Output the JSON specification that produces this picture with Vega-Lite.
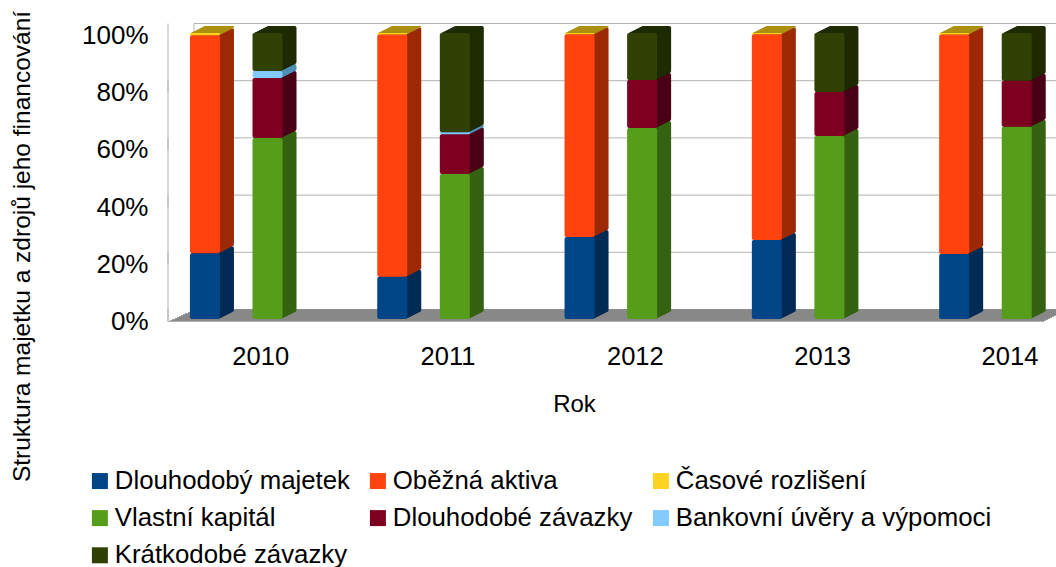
{"$schema":"https://vega.github.io/schema/vega-lite/v6.json","width":888,"height":286,"autosize":"none","padding":{"left":168,"top":33,"right":0,"bottom":248},"background":"white","config":{"view":{"stroke":null},"font":"Liberation Sans"},
"datasets":{"ticks":[{"v":0},{"v":20},{"v":40},{"v":60},{"v":80},{"v":100}],"zero":[{"v":0}],"wall":[{"v":0,"v2":100}]},
"data":{"values":[
{"year":2010,"pos":2009.833,"series":"Dlouhodobý majetek","ord":1,"value":23.0},{"year":2010,"pos":2009.833,"series":"Oběžná aktiva","ord":2,"value":76.2},{"year":2010,"pos":2009.833,"series":"Časové rozlišení","ord":3,"value":0.8},
{"year":2010,"pos":2010.167,"series":"Vlastní kapitál","ord":4,"value":63.3},{"year":2010,"pos":2010.167,"series":"Dlouhodobé závazky","ord":5,"value":21.0},{"year":2010,"pos":2010.167,"series":"Bankovní úvěry a výpomoci","ord":6,"value":2.4},{"year":2010,"pos":2010.167,"series":"Krátkodobé závazky","ord":7,"value":13.3},
{"year":2011,"pos":2010.833,"series":"Dlouhodobý majetek","ord":1,"value":14.8},{"year":2011,"pos":2010.833,"series":"Oběžná aktiva","ord":2,"value":84.7},{"year":2011,"pos":2010.833,"series":"Časové rozlišení","ord":3,"value":0.5},
{"year":2011,"pos":2011.167,"series":"Vlastní kapitál","ord":4,"value":50.7},{"year":2011,"pos":2011.167,"series":"Dlouhodobé závazky","ord":5,"value":13.9},{"year":2011,"pos":2011.167,"series":"Bankovní úvěry a výpomoci","ord":6,"value":0.7},{"year":2011,"pos":2011.167,"series":"Krátkodobé závazky","ord":7,"value":34.7},
{"year":2012,"pos":2011.833,"series":"Dlouhodobý majetek","ord":1,"value":28.7},{"year":2012,"pos":2011.833,"series":"Oběžná aktiva","ord":2,"value":70.9},{"year":2012,"pos":2011.833,"series":"Časové rozlišení","ord":3,"value":0.4},
{"year":2012,"pos":2012.167,"series":"Vlastní kapitál","ord":4,"value":66.8},{"year":2012,"pos":2012.167,"series":"Dlouhodobé závazky","ord":5,"value":16.8},{"year":2012,"pos":2012.167,"series":"Krátkodobé závazky","ord":7,"value":16.4},
{"year":2013,"pos":2012.833,"series":"Dlouhodobý majetek","ord":1,"value":27.6},{"year":2013,"pos":2012.833,"series":"Oběžná aktiva","ord":2,"value":72.0},{"year":2013,"pos":2012.833,"series":"Časové rozlišení","ord":3,"value":0.4},
{"year":2013,"pos":2013.167,"series":"Vlastní kapitál","ord":4,"value":64.0},{"year":2013,"pos":2013.167,"series":"Dlouhodobé závazky","ord":5,"value":15.4},{"year":2013,"pos":2013.167,"series":"Krátkodobé závazky","ord":7,"value":20.6},
{"year":2014,"pos":2013.833,"series":"Dlouhodobý majetek","ord":1,"value":22.7},{"year":2014,"pos":2013.833,"series":"Oběžná aktiva","ord":2,"value":76.8},{"year":2014,"pos":2013.833,"series":"Časové rozlišení","ord":3,"value":0.5},
{"year":2014,"pos":2014.167,"series":"Vlastní kapitál","ord":4,"value":67.2},{"year":2014,"pos":2014.167,"series":"Dlouhodobé závazky","ord":5,"value":16.1},{"year":2014,"pos":2014.167,"series":"Krátkodobé závazky","ord":7,"value":16.7}
]},
"layer":[
{"data":{"name":"ticks"},"mark":{"type":"rule","color":"#b3b3b3","strokeWidth":1,"x":26,"x2":900,"yOffset":-9.5},"encoding":{"y":{"field":"v","type":"quantitative","scale":{"domain":[0,100],"nice":false},"axis":{"title":"Struktura majetku a zdrojů jeho financování","titleFontSize":24.5,"titleFontWeight":"normal","titleColor":"#000","titleX":-146,"titleY":213,"titleAngle":270,"titleAlign":"center","titleBaseline":"middle","values":[0,20,40,60,80,100],"format":".0f","labelExpr":"datum.label + '%'","labelFontSize":26,"labelColor":"#000","labelPadding":20,"labelOffset":2.5,"ticks":false,"domain":false,"grid":false}}}},
{"data":{"name":"ticks"},"mark":{"type":"rule","color":"#b3b3b3","strokeWidth":1,"x":0,"x2":26,"yOffset":2.5,"y2Offset":-9.5},"encoding":{"y":{"field":"v","type":"quantitative"},"y2":{"field":"v"}}},
{"data":{"name":"wall"},"mark":{"type":"rule","color":"#b3b3b3","strokeWidth":1,"x":0,"yOffset":2.5,"y2Offset":2.5},"encoding":{"y":{"field":"v","type":"quantitative"},"y2":{"field":"v2"}}},
{"data":{"name":"wall"},"mark":{"type":"rule","color":"#b3b3b3","strokeWidth":1,"x":26,"yOffset":-9.5,"y2Offset":-9.5},"encoding":{"y":{"field":"v","type":"quantitative"},"y2":{"field":"v2"}}},
{"data":{"name":"zero"},"encoding":{"y":{"field":"v","type":"quantitative"}},"layer":[
{"mark":{"type":"rule","color":"#808080","strokeWidth":1.5,"x":26,"x2":900,"yOffset":-9}},
{"mark":{"type":"rule","color":"#808080","strokeWidth":1.5,"x":24,"x2":897,"yOffset":-8}},
{"mark":{"type":"rule","color":"#808080","strokeWidth":1.5,"x":22,"x2":895,"yOffset":-7}},
{"mark":{"type":"rule","color":"#808080","strokeWidth":1.5,"x":20,"x2":893,"yOffset":-6}},
{"mark":{"type":"rule","color":"#808080","strokeWidth":1.5,"x":17,"x2":891,"yOffset":-5}},
{"mark":{"type":"rule","color":"#808080","strokeWidth":1.5,"x":15,"x2":888,"yOffset":-4}},
{"mark":{"type":"rule","color":"#808080","strokeWidth":1.5,"x":13,"x2":886,"yOffset":-3}},
{"mark":{"type":"rule","color":"#808080","strokeWidth":1.5,"x":11,"x2":884,"yOffset":-2}},
{"mark":{"type":"rule","color":"#808080","strokeWidth":1.5,"x":9,"x2":882,"yOffset":-1}},
{"mark":{"type":"rule","color":"#808080","strokeWidth":1.5,"x":7,"x2":880,"yOffset":0}},
{"mark":{"type":"rule","color":"#808080","strokeWidth":1.5,"x":4,"x2":878,"yOffset":1}},
{"mark":{"type":"rule","color":"#808080","strokeWidth":1.5,"x":2,"x2":876,"yOffset":2}},
{"mark":{"type":"rule","color":"#b3b3b3","strokeWidth":1,"x":0,"x2":875,"yOffset":2.5}}
]},
{"transform":[{"stack":"value","groupby":["pos"],"sort":[{"field":"ord","order":"ascending"}],"as":["v0","v1"]}],
"encoding":{
"x":{"field":"pos","type":"quantitative","scale":{"domain":[2009.6357,2014.3767],"nice":false,"zero":false,"padding":0},"axis":{"title":"Rok","titleFontSize":24,"titleFontWeight":"normal","titleColor":"#000","titleX":406,"titleY":85,"titleBaseline":"middle","values":[2010,2011,2012,2013,2014],"format":"d","labelFontSize":25.5,"labelColor":"#000","labelAngle":0,"labelOffset":24,"labelPadding":25,"ticks":false,"domain":false,"grid":false}},
"y":{"field":"v1","type":"quantitative"},"y2":{"field":"v0"}},
"layer":[
{"encoding":{"fill":{"field":"series","type":"nominal","legend":null,"scale":{"domain":["Krátkodobé závazky","Bankovní úvěry a výpomoci","Dlouhodobé závazky","Vlastní kapitál","Časové rozlišení","Oběžná aktiva","Dlouhodobý majetek"],"range":["#1f2a00","#4f8fb5","#4a0017","#356312","#ad8f10","#9c2a05","#002b55"]}}},
"layer":[
{"mark":{"type":"bar","size":30,"orient":"vertical","cornerRadius":2,"xOffset":14,"yOffset":-7,"y2Offset":-7}},
{"mark":{"type":"bar","size":30,"orient":"vertical","cornerRadius":2,"xOffset":13,"yOffset":-6.5,"y2Offset":-6.5}},
{"mark":{"type":"bar","size":30,"orient":"vertical","cornerRadius":2,"xOffset":12,"yOffset":-6,"y2Offset":-6}},
{"mark":{"type":"bar","size":30,"orient":"vertical","cornerRadius":2,"xOffset":11,"yOffset":-5.5,"y2Offset":-5.5}},
{"mark":{"type":"bar","size":30,"orient":"vertical","cornerRadius":2,"xOffset":10,"yOffset":-5,"y2Offset":-5}},
{"mark":{"type":"bar","size":30,"orient":"vertical","cornerRadius":2,"xOffset":9,"yOffset":-4.5,"y2Offset":-4.5}},
{"mark":{"type":"bar","size":30,"orient":"vertical","cornerRadius":2,"xOffset":8,"yOffset":-4,"y2Offset":-4}},
{"mark":{"type":"bar","size":30,"orient":"vertical","cornerRadius":2,"xOffset":7,"yOffset":-3.5,"y2Offset":-3.5}},
{"mark":{"type":"bar","size":30,"orient":"vertical","cornerRadius":2,"xOffset":6,"yOffset":-3,"y2Offset":-3}},
{"mark":{"type":"bar","size":30,"orient":"vertical","cornerRadius":2,"xOffset":5,"yOffset":-2.5,"y2Offset":-2.5}},
{"mark":{"type":"bar","size":30,"orient":"vertical","cornerRadius":2,"xOffset":4,"yOffset":-2,"y2Offset":-2}},
{"mark":{"type":"bar","size":30,"orient":"vertical","cornerRadius":2,"xOffset":3,"yOffset":-1.5,"y2Offset":-1.5}},
{"mark":{"type":"bar","size":30,"orient":"vertical","cornerRadius":2,"xOffset":2,"yOffset":-1,"y2Offset":-1}},
{"mark":{"type":"bar","size":30,"orient":"vertical","cornerRadius":2,"xOffset":1,"yOffset":-0.5,"y2Offset":-0.5}}
]},
{"mark":{"type":"bar","size":30,"orient":"vertical","cornerRadius":2},"encoding":{"color":{"field":"series","type":"nominal","scale":{"domain":["Dlouhodobý majetek","Oběžná aktiva","Časové rozlišení","Vlastní kapitál","Dlouhodobé závazky","Bankovní úvěry a výpomoci","Krátkodobé závazky"],"range":["#004586","#ff420e","#ffd320","#579d1c","#7e0021","#83caff","#314004"]},"legend":{"title":null,"orient":"none","direction":"horizontal","legendX":-81,"legendY":435,"columns":3,"symbolType":"square","symbolSize":256,"symbolStrokeWidth":0,"symbolOpacity":1,"labelFontSize":25.8,"labelColor":"#000","labelOffset":2,"labelLimit":400,"rowPadding":10.2,"columnPadding":15}}}}
]}
]}
